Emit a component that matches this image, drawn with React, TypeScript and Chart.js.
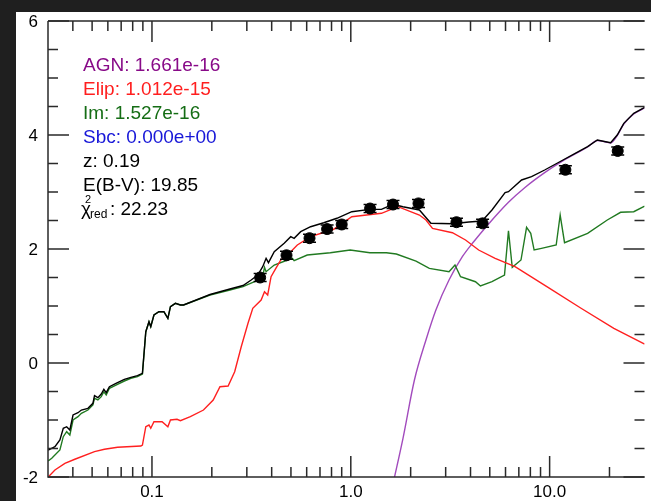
import React, { useEffect, useRef } from "react";
import { Chart, registerables } from "chart.js";

Chart.register(...registerables);

const FONT = '"Liberation Sans", Arial, Helvetica, sans-serif';

// SED model components: log10 wavelength (micron) and log10 flux
const totalLogWave = [-1.522, -1.488, -1.463, -1.446, -1.429, -1.413, -1.397, -1.372, -1.355, -1.322, -1.297, -1.289, -1.272, -1.255, -1.242, -1.230, -1.214, -1.181, -1.139, -1.106, -1.073, -1.048, -1.031, -1.015, -1.006, -0.990, -0.965, -0.940, -0.920, -0.907, -0.882, -0.857, -0.841, -0.708, -0.608, -0.542, -0.501, -0.468, -0.443, -0.426, -0.414, -0.385, -0.335, -0.302, -0.285, -0.252, -0.202, -0.136, -0.070, 0.005, 0.096, 0.154, 0.212, 0.262, 0.345, 0.403, 0.511, 0.594, 0.660, 0.710, 0.776, 0.793, 0.859, 0.909, 0.975, 1.058, 1.124, 1.191, 1.240, 1.282, 1.307, 1.340, 1.373, 1.423, 1.478];
const totalLogFlux = [-1.530, -1.468, -1.351, -1.146, -1.118, -1.175, -0.912, -0.872, -0.825, -0.795, -0.707, -0.574, -0.609, -0.544, -0.461, -0.521, -0.416, -0.356, -0.286, -0.251, -0.223, -0.181, 0.549, 0.725, 0.637, 0.842, 0.900, 0.900, 0.784, 0.988, 1.047, 1.018, 1.018, 1.202, 1.298, 1.360, 1.456, 1.544, 1.689, 1.837, 1.760, 1.953, 2.100, 2.216, 2.188, 2.304, 2.391, 2.461, 2.539, 2.654, 2.696, 2.696, 2.784, 2.742, 2.684, 2.451, 2.442, 2.474, 2.490, 2.684, 2.988, 3.005, 3.211, 3.268, 3.386, 3.544, 3.667, 3.795, 3.912, 3.882, 3.865, 4.000, 4.205, 4.381, 4.486];

const imLogWave = [-1.522, -1.504, -1.463, -1.446, -1.429, -1.413, -1.397, -1.372, -1.355, -1.322, -1.297, -1.289, -1.272, -1.255, -1.242, -1.230, -1.214, -1.181, -1.139, -1.106, -1.073, -1.048, -1.031, -1.015, -1.006, -0.990, -0.965, -0.940, -0.920, -0.907, -0.882, -0.857, -0.841, -0.708, -0.608, -0.542, -0.484, -0.443, -0.434, -0.426, -0.385, -0.318, -0.294, -0.285, -0.219, -0.103, -0.003, 0.096, 0.179, 0.229, 0.328, 0.395, 0.494, 0.524, 0.552, 0.627, 0.652, 0.710, 0.773, 0.793, 0.812, 0.856, 0.884, 0.905, 0.922, 0.959, 1.033, 1.053, 1.075, 1.191, 1.290, 1.357, 1.423, 1.478];
const imLogFlux = [-1.719, -1.672, -1.526, -1.293, -1.205, -1.263, -1.000, -0.942, -0.882, -0.825, -0.737, -0.619, -0.649, -0.591, -0.504, -0.561, -0.444, -0.386, -0.316, -0.268, -0.240, -0.193, 0.549, 0.725, 0.637, 0.842, 0.900, 0.900, 0.784, 0.988, 1.047, 1.018, 1.018, 1.193, 1.281, 1.339, 1.426, 1.514, 1.679, 1.602, 1.719, 1.807, 1.837, 1.795, 1.895, 1.935, 1.982, 1.935, 1.935, 1.912, 1.789, 1.661, 1.602, 1.719, 1.514, 1.426, 1.351, 1.426, 1.544, 2.321, 1.679, 1.807, 2.381, 2.275, 1.982, 2.012, 2.070, 2.596, 2.111, 2.275, 2.509, 2.644, 2.654, 2.754];

const elipLogWave = [-1.522, -1.488, -1.438, -1.388, -1.289, -1.239, -1.173, -1.056, -1.048, -1.031, -1.015, -1.006, -0.990, -0.949, -0.920, -0.907, -0.874, -0.857, -0.807, -0.741, -0.692, -0.658, -0.617, -0.584, -0.551, -0.517, -0.493, -0.451, -0.434, -0.418, -0.401, -0.377, -0.352, -0.302, -0.269, -0.202, -0.086, 0.005, 0.154, 0.237, 0.345, 0.378, 0.411, 0.511, 0.577, 0.643, 0.726, 0.826, 0.992, 1.158, 1.323, 1.478];
const elipLogFlux = [-2.000, -1.877, -1.760, -1.689, -1.556, -1.514, -1.479, -1.456, -1.439, -1.118, -1.088, -1.146, -1.030, -1.030, -1.118, -1.000, -0.988, -1.012, -0.942, -0.825, -0.649, -0.416, -0.404, -0.153, 0.286, 0.696, 0.960, 1.105, 1.251, 1.193, 1.514, 1.661, 1.807, 1.953, 2.070, 2.216, 2.346, 2.567, 2.626, 2.742, 2.596, 2.509, 2.363, 2.286, 2.158, 1.982, 1.837, 1.689, 1.328, 0.960, 0.609, 0.333];

const agnLogWave = [0.218, 0.262, 0.320, 0.378, 0.428, 0.494, 0.561, 0.618, 0.693, 0.793, 0.876, 0.975, 1.058, 1.124, 1.191, 1.240, 1.282, 1.307, 1.340, 1.373, 1.423, 1.478];
const agnLogFlux = [-2.03, -1.33, -0.298, 0.404, 0.930, 1.456, 1.865, 2.128, 2.44, 2.82, 3.08, 3.34, 3.53, 3.658, 3.789, 3.904, 3.877, 3.860, 3.991, 4.193, 4.368, 4.474];

// Photometry (micron, log10 flux, error)
const bandWave = [0.35, 0.475, 0.62, 0.76, 0.90, 1.25, 1.63, 2.19, 3.4, 4.6, 12.0, 22.0];
const bandFlux = [1.50, 1.89, 2.19, 2.35, 2.43, 2.71, 2.78, 2.80, 2.47, 2.45, 3.39, 3.72];
const bandErr = [0.07, 0.07, 0.07, 0.07, 0.07, 0.07, 0.07, 0.07, 0.07, 0.07, 0.07, 0.07];

// Axis ticks
const xMajorTicks = [0.1, 1, 10];
const xMajorLabels = ["0.1", "1.0", "10.0"];
const xMinorTicks = [0.04, 0.05, 0.06, 0.07, 0.08, 0.09, 0.2, 0.3, 0.4, 0.5, 0.6, 0.7, 0.8, 0.9, 2, 3, 4, 5, 6, 7, 8, 9, 20];
const yMajorTicks = [-2, 0, 2, 4, 6];
const yMinorTicks = [-1.5, -1, -0.5, 0.5, 1, 1.5, 2.5, 3, 3.5, 4.5, 5, 5.5];

// Fit summary text
const fitLabels = ["AGN: 1.661e-16", "Elip: 1.012e-15", "Im: 1.527e-16", "Sbc: 0.000e+00", "z: 0.19", "E(B-V): 19.85"];
const fitColors = ["#880a88", "#ff1f1f", "#156d15", "#1818d8", "#000000", "#000000"];
const chiSquaredRed = "22.23";

const toPoints = (w: number[], f: number[]) => w.map((lw, i) => ({ x: Math.pow(10, lw), y: f[i] }));

const axisColor = "#2a2a2a";

const framePlugin = {
  id: "sedFrame",
  afterDatasetsDraw(chart: any) {
    const { ctx, chartArea: a, scales } = chart;
    const xs = scales.x;
    const ys = scales.y;

    // error bars on the photometry
    const meta = chart.getDatasetMeta(0);
    ctx.save();
    ctx.strokeStyle = "#000";
    ctx.lineWidth = 1.5;
    meta.data.forEach((el: any, i: number) => {
      const top = ys.getPixelForValue(bandFlux[i] + bandErr[i]);
      const bot = ys.getPixelForValue(bandFlux[i] - bandErr[i]);
      ctx.beginPath();
      ctx.moveTo(el.x, top);
      ctx.lineTo(el.x, bot);
      ctx.moveTo(el.x - 6.5, top);
      ctx.lineTo(el.x + 6.5, top);
      ctx.moveTo(el.x - 6.5, bot);
      ctx.lineTo(el.x + 6.5, bot);
      ctx.stroke();
    });
    ctx.restore();

    ctx.save();
    ctx.strokeStyle = axisColor;
    ctx.lineWidth = 1.5;
    ctx.beginPath();
    ctx.moveTo(a.left, a.top);
    ctx.lineTo(a.left, a.bottom);
    ctx.lineTo(a.right, a.bottom);
    ctx.moveTo(a.left, a.top);
    ctx.lineTo(a.right, a.top);
    ctx.stroke();

    ctx.beginPath();
    const xTick = (v: number, len: number) => {
      const p = xs.getPixelForValue(v);
      ctx.moveTo(p, a.bottom);
      ctx.lineTo(p, a.bottom - len);
      ctx.moveTo(p, a.top);
      ctx.lineTo(p, a.top + len);
    };
    xMajorTicks.forEach((v) => xTick(v, 21));
    xMinorTicks.forEach((v) => xTick(v, 10));
    const yTick = (v: number, len: number) => {
      const p = ys.getPixelForValue(v);
      ctx.moveTo(a.left, p);
      ctx.lineTo(a.left + len, p);
      ctx.moveTo(a.right, p);
      ctx.lineTo(a.right - len, p);
    };
    yMajorTicks.forEach((v) => yTick(v, 21));
    yMinorTicks.forEach((v) => yTick(v, 10));
    ctx.stroke();

    // tick labels
    ctx.fillStyle = "#000";
    ctx.font = `17px ${FONT}`;
    ctx.textAlign = "right";
    ctx.textBaseline = "middle";
    yMajorTicks.forEach((v) => {
      ctx.fillText(String(v), a.left - 10, ys.getPixelForValue(v) + 1);
    });
    ctx.textAlign = "center";
    ctx.textBaseline = "alphabetic";
    xMajorTicks.forEach((v, i) => {
      ctx.fillText(xMajorLabels[i], xs.getPixelForValue(v), a.bottom + 20);
    });

    // fit summary
    ctx.font = `19px ${FONT}`;
    ctx.textAlign = "left";
    const tx = a.left + 35;
    fitLabels.forEach((t, i) => {
      ctx.fillStyle = fitColors[i];
      ctx.fillText(t, tx, a.top + 49.5 + i * 24);
    });
    const cy = a.top + 49.5 + fitLabels.length * 24;
    ctx.fillStyle = "#000";
    ctx.fillText("\u03c7", tx - 2, cy);
    ctx.font = `11px ${FONT}`;
    ctx.fillText("2", tx + 2, cy - 12);
    ctx.font = `12px ${FONT}`;
    ctx.fillText("red", tx + 7, cy + 3);
    ctx.font = `19px ${FONT}`;
    ctx.fillText(": " + chiSquaredRed, tx + 27, cy);
    ctx.restore();
  },
};

export default function App() {
  const ref = useRef<HTMLCanvasElement | null>(null);

  useEffect(() => {
    if (!ref.current) return;
    const line = (data: any, color: string, order: number, smooth = false) => ({
      type: "line",
      data,
      borderColor: color,
      borderWidth: 1.4,
      pointRadius: 0,
      tension: 0,
      cubicInterpolationMode: smooth ? "monotone" : "default",
      fill: false,
      showLine: true,
      order,
    });
    const chart = new Chart(ref.current, {
      type: "scatter",
      data: {
        datasets: [
          {
            data: bandWave.map((w, i) => ({ x: w, y: bandFlux[i] })),
            backgroundColor: "#000",
            borderColor: "#000",
            pointRadius: 5.5,
            pointHoverRadius: 5.5,
            showLine: false,
            order: 0,
          } as any,
          line(toPoints(totalLogWave, totalLogFlux), "#000000", 1),
          line(toPoints(elipLogWave, elipLogFlux), "#ff2020", 2),
          line(toPoints(imLogWave, imLogFlux), "#217a21", 3),
          line(toPoints(agnLogWave, agnLogFlux), "#a24bbd", 4, true),
        ],
      },
      options: {
        responsive: false,
        animation: false,
        devicePixelRatio: 1,
        events: [],
        layout: { padding: { left: 32, top: 9, right: 0, bottom: 24 } },
        scales: {
          x: { type: "logarithmic", min: 0.03, max: 30, display: false },
          y: { type: "linear", min: -2, max: 6, display: false },
        },
        plugins: { legend: { display: false }, tooltip: { enabled: false } },
      },
      plugins: [framePlugin],
    } as any);
    return () => chart.destroy();
  }, []);

  return (
    <div style={{ position: "fixed", left: 0, top: 0, width: 651, height: 501, background: "#1f1f1f", overflow: "hidden" }}>
      <div style={{ position: "absolute", left: 16, top: 12, width: 635, height: 489, background: "#ffffff" }}>
        <canvas ref={ref} width={635} height={489} style={{ display: "block", width: 635, height: 489 }} />
      </div>
    </div>
  );
}
